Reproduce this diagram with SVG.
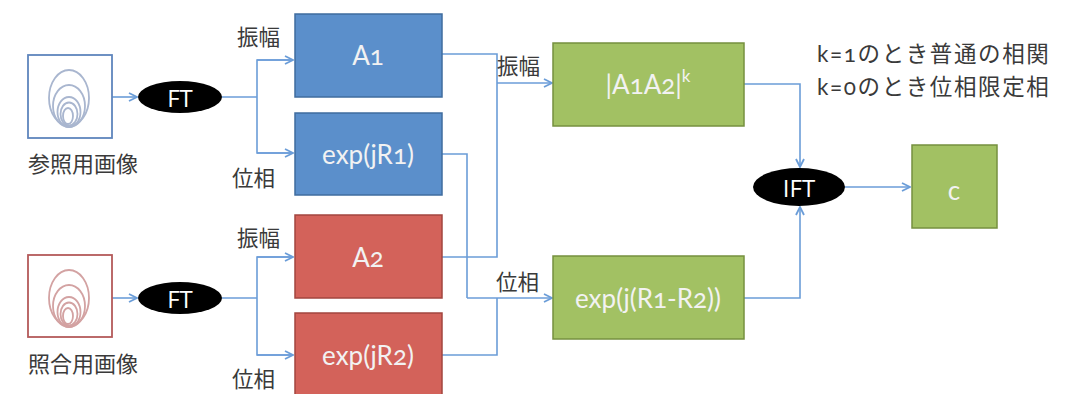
<svg xmlns="http://www.w3.org/2000/svg" width="1067" height="394" viewBox="0 0 1067 394">
  <defs>
    <style>
      .jp { font-family: "Noto Sans CJK JP", "Noto Sans", sans-serif; fill: #3a3a3a; }
      .lbl { font-size: 21.5px; }
      .cap { font-size: 22px; }
      .note { font-size: 22.5px; letter-spacing: 1.6px; }
      .num { font-family: Lato, "Open Sans", sans-serif; font-feature-settings: "onum"; font-variant-numeric: oldstyle-nums; }
      .box-text { font-family: Lato, "Open Sans", sans-serif; font-size: 26px; fill: #f2f2f2; text-anchor: middle; dominant-baseline: central; font-feature-settings: "onum"; font-variant-numeric: oldstyle-nums; }
      .oval-text { font-family: "Open Sans", "Liberation Sans", sans-serif; font-size: 24px; fill: #ffffff; text-anchor: middle; dominant-baseline: central; }
      .blue { fill: #5b8fcb; stroke: #3f6c9f; stroke-width: 1.5; }
      .red { fill: #d3625a; stroke: #a3463f; stroke-width: 1.5; }
      .green { fill: #a2c163; stroke: #76903f; stroke-width: 1.5; }
      .wire { fill: none; stroke: #6b9dd8; stroke-width: 1.6; }
      .ring-b { fill: none; stroke: #a9b6cf; stroke-width: 1.8; }
      .ring-r { fill: none; stroke: #d3a2a2; stroke-width: 1.8; }
    </style>
    <marker id="arrow" viewBox="0 0 10 10" refX="9" refY="5" markerWidth="10" markerHeight="10" markerUnits="userSpaceOnUse" orient="auto">
      <path d="M1,1 L9,5 L1,9" fill="none" stroke="#6b9dd8" stroke-width="1.8"/>
    </marker>
  </defs>

  <rect width="1067" height="394" fill="#ffffff"/>

  <!-- connectors -->
  <g id="connectors">
    <line class="wire" x1="112" y1="97" x2="137" y2="97" marker-end="url(#arrow)"/>
    <path class="wire" d="M222,97 H257"/>
    <path class="wire" d="M292,60 H257 V153 H292"/>
    <line class="wire" x1="257" y1="60" x2="293" y2="60" marker-end="url(#arrow)"/>
    <line class="wire" x1="257" y1="153" x2="293" y2="153" marker-end="url(#arrow)"/>

    <line class="wire" x1="112" y1="298" x2="137" y2="298" marker-end="url(#arrow)"/>
    <path class="wire" d="M222,298 H257"/>
    <path class="wire" d="M292,257 H257 V355 H292"/>
    <line class="wire" x1="257" y1="257" x2="293" y2="257" marker-end="url(#arrow)"/>
    <line class="wire" x1="257" y1="355" x2="293" y2="355" marker-end="url(#arrow)"/>

    <!-- amplitude path -->
    <path class="wire" d="M442,54 H497 V257 H442"/>
    <line class="wire" x1="497" y1="83" x2="552" y2="83" marker-end="url(#arrow)"/>
    <!-- phase path -->
    <path class="wire" d="M442,154 H467 V298"/>
    <path class="wire" d="M442,355 H497 V298"/>
    <line class="wire" x1="467" y1="298" x2="552" y2="298" marker-end="url(#arrow)"/>

    <path class="wire" d="M744,84 H800 V167" marker-end="url(#arrow)"/>
    <path class="wire" d="M744,298 H800 V207" marker-end="url(#arrow)"/>
    <line class="wire" x1="845" y1="187" x2="910" y2="187" marker-end="url(#arrow)"/>
  </g>

  <!-- reference image -->
  <g id="ref-image">
    <rect x="28" y="55" width="84" height="83" fill="#ffffff" stroke="#5f86bd" stroke-width="1.8"/>
    <ellipse class="ring-b" cx="69" cy="98" rx="20" ry="28"/>
    <ellipse class="ring-b" cx="69" cy="106" rx="16" ry="21"/>
    <ellipse class="ring-b" cx="69" cy="112" rx="11.5" ry="15"/>
    <ellipse class="ring-b" cx="69" cy="114" rx="8.5" ry="11.5"/>
    <ellipse class="ring-b" cx="68" cy="116" rx="5" ry="8"/>
    <text class="jp cap" x="28" y="172">参照用画像</text>
  </g>

  <!-- query image -->
  <g id="query-image">
    <rect x="28" y="255" width="84" height="82" fill="#ffffff" stroke="#b45a5a" stroke-width="1.8"/>
    <ellipse class="ring-r" cx="69" cy="298" rx="20" ry="28"/>
    <ellipse class="ring-r" cx="69" cy="306" rx="16" ry="21"/>
    <ellipse class="ring-r" cx="69" cy="312" rx="11.5" ry="15"/>
    <ellipse class="ring-r" cx="69" cy="314" rx="8.5" ry="11.5"/>
    <ellipse class="ring-r" cx="68" cy="316" rx="5" ry="8"/>
    <text class="jp cap" x="28" y="372">照合用画像</text>
  </g>

  <!-- Fourier transforms -->
  <g id="ft-ref">
    <ellipse cx="180" cy="97" rx="42" ry="16" fill="#000000"/>
    <text class="oval-text" x="180" y="97">FT</text>
  </g>
  <g id="ft-query">
    <ellipse cx="180" cy="298" rx="42" ry="16" fill="#000000"/>
    <text class="oval-text" x="180" y="298">FT</text>
  </g>

  <!-- branch labels -->
  <g id="labels">
    <text class="jp lbl" x="237" y="45">振幅</text>
    <text class="jp lbl" x="232" y="186">位相</text>
    <text class="jp lbl" x="237" y="246">振幅</text>
    <text class="jp lbl" x="232" y="387">位相</text>
    <text class="jp lbl" x="497" y="74">振幅</text>
    <text class="jp lbl" x="496" y="290">位相</text>
  </g>

  <!-- spectra -->
  <g id="a1">
    <rect class="blue" x="295" y="14" width="147" height="83"/>
    <text class="box-text" x="368" y="55">A1</text>
  </g>
  <g id="r1">
    <rect class="blue" x="295" y="113" width="147" height="82"/>
    <text class="box-text" x="368" y="154">exp(jR1)</text>
  </g>
  <g id="a2">
    <rect class="red" x="295" y="215" width="147" height="83"/>
    <text class="box-text" x="368" y="257">A2</text>
  </g>
  <g id="r2">
    <rect class="red" x="295" y="313" width="147" height="82"/>
    <text class="box-text" x="368" y="355">exp(jR2)</text>
  </g>

  <!-- combined terms -->
  <g id="amp-product">
    <rect class="green" x="553" y="43" width="191" height="83"/>
    <text class="box-text" x="648" y="84">|A1A2|<tspan font-size="17" dy="-9">k</tspan></text>
  </g>
  <g id="phase-diff">
    <rect class="green" x="553" y="256" width="191" height="83"/>
    <text class="box-text" x="648" y="298">exp(j(R1-R2))</text>
  </g>

  <g id="ift">
    <ellipse cx="799" cy="187" rx="46" ry="19" fill="#000000"/>
    <text class="oval-text" x="799" y="187">IFT</text>
  </g>
  <g id="c">
    <rect class="green" x="912" y="145" width="85" height="83"/>
    <text class="box-text" x="954" y="190">c</text>
  </g>

  <!-- note, two lines -->
  <g id="note">
    <text class="jp note" x="817" y="62"><tspan class="num">k=1</tspan>のとき普通の相関</text>
    <text class="jp note" x="817" y="95"><tspan class="num">k=0</tspan>のとき位相限定相</text>
  </g>
</svg>
